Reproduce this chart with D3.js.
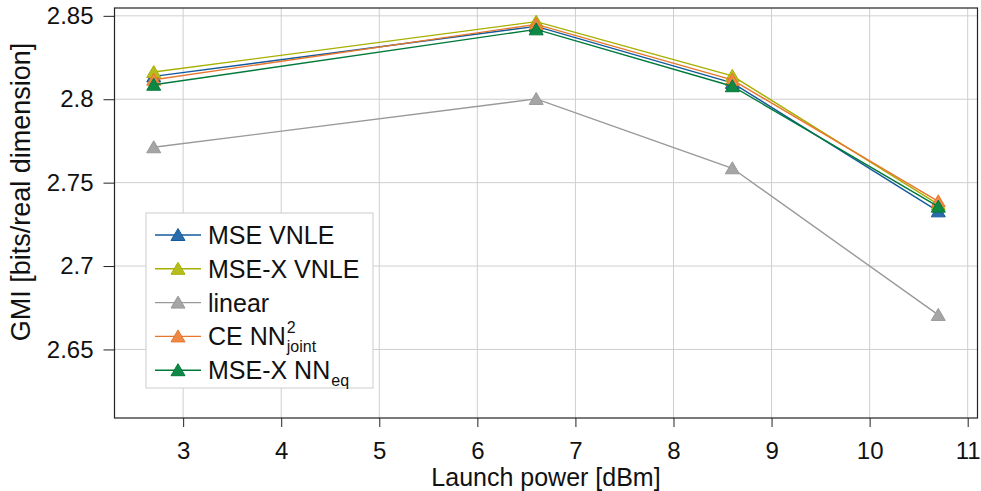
<!DOCTYPE html>
<html>
<head>
<meta charset="utf-8">
<script src="https://cdn.jsdelivr.net/npm/d3@7/dist/d3.min.js"></script>
<style>
  html, body { margin: 0; padding: 0; background: #fff; }
  svg { display: block; font-family: "Liberation Sans", Arial, Helvetica, sans-serif; }
</style>
</head>
<body>
<svg id="chart" width="981" height="491"></svg>
<script>
// ---- data ----
const launchPower = [2.7, 6.6, 8.6, 10.7];
const mseVnle     = [2.8137, 2.8437, 2.8098, 2.7328];
const mseXVnle    = [2.8163, 2.8465, 2.8140, 2.7370];
const linearEq    = [2.7712, 2.8002, 2.7586, 2.6707];
const ceNNjoint   = [2.8117, 2.8449, 2.8116, 2.7388];
const mseXNNeq    = [2.8087, 2.8419, 2.8078, 2.7356];
const xTicks = [3, 4, 5, 6, 7, 8, 9, 10, 11];
const yTicks = [2.65, 2.7, 2.75, 2.8, 2.85];
const yTickLabels = ["2.65", "2.7", "2.75", "2.8", "2.85"];

const series = [
  { name: "MSE VNLE",   values: mseVnle,   stroke: "#125a9c", fill: "#2a6cab" },
  { name: "MSE-X VNLE", values: mseXVnle,  stroke: "#a7b000", fill: "#b6bd1e" },
  { name: "linear",     values: linearEq,  stroke: "#999999", fill: "#a5a5a5" },
  { name: "CE NN",      values: ceNNjoint, stroke: "#e8772e", fill: "#ee8845", sup: "2", sub: "joint" },
  { name: "MSE-X NN",   values: mseXNNeq,  stroke: "#007a3a", fill: "#108845", sub: "eq" }
];

// ---- layout ----
const L = 114.5, R = 977.5, T = 8, B = 418;
const svg = d3.select("#chart");
const x = d3.scaleLinear().domain([2.3, 11.1]).range([L, R]);
const y = d3.scaleLinear().domain([2.6089, 2.8547]).range([B, T]);
const FS = 24;

// grid
const grid = svg.append("g");
grid.selectAll(".gx").data(xTicks).join("line")
  .attr("x1", d => x(d)).attr("x2", d => x(d)).attr("y1", T).attr("y2", B)
  .attr("stroke", "#cfcfcf").attr("stroke-width", 1);
grid.selectAll(".gy").data(yTicks).join("line")
  .attr("x1", L).attr("x2", R).attr("y1", d => y(d)).attr("y2", d => y(d))
  .attr("stroke", "#cfcfcf").attr("stroke-width", 1);

// axes
const xAxis = d3.axisBottom(x).tickValues(xTicks).tickSize(9).tickSizeOuter(0).tickPadding(15);
const yAxis = d3.axisLeft(y).tickValues(yTicks).tickFormat((d, i) => yTickLabels[i]).tickSize(11).tickSizeOuter(0).tickPadding(10);
const gx = svg.append("g").attr("transform", `translate(0,${B})`).call(xAxis);
const gy = svg.append("g").attr("transform", `translate(${L},0)`).call(yAxis);
[gx, gy].forEach(g => {
  g.select(".domain").remove();
  g.selectAll(".tick line").attr("stroke", "#222");
  g.selectAll(".tick text").attr("fill", "#111").style("font-size", FS + "px")
    .style("font-family", '"Liberation Sans", Arial, sans-serif');
});

// frame
svg.append("rect").attr("x", L).attr("y", T).attr("width", R - L).attr("height", B - T)
  .attr("fill", "none").attr("stroke", "#222").attr("stroke-width", 1.2);

// series
const tri = "M0,-6.5L7,5.5L-7,5.5Z";
const line = d3.line().x((d, i) => x(launchPower[i])).y(d => y(d));
series.forEach(s => {
  const g = svg.append("g");
  g.append("path").attr("d", line(s.values)).attr("fill", "none")
    .attr("stroke", s.stroke).attr("stroke-width", 1.4);
  g.selectAll("path.m").data(s.values).join("path").attr("class", "m")
    .attr("d", tri)
    .attr("transform", (d, i) => `translate(${x(launchPower[i])},${y(d)})`)
    .attr("fill", s.fill).attr("stroke", s.stroke).attr("stroke-width", 1);
});

// legend
const LFS = 25;
const lg = svg.append("g");
lg.append("rect").attr("x", 146).attr("y", 213).attr("width", 227).attr("height", 175)
  .attr("fill", "#fff").attr("stroke", "#cccccc").attr("stroke-width", 1);
series.forEach((s, i) => {
  const cy = 235 + i * 33.8;
  lg.append("line").attr("x1", 155).attr("x2", 201).attr("y1", cy).attr("y2", cy)
    .attr("stroke", s.stroke).attr("stroke-width", 1.4);
  lg.append("path").attr("d", tri).attr("transform", `translate(178,${cy})`)
    .attr("fill", s.fill).attr("stroke", s.stroke).attr("stroke-width", 1);
  const t = lg.append("text").attr("x", 208).attr("y", cy + 9)
    .style("font-size", LFS + "px").attr("fill", "#111").text(s.name);
  const w = t.node().getComputedTextLength();
  if (s.sup) {
    lg.append("text").attr("x", 208 + w + 1).attr("y", cy - 3)
      .style("font-size", "16px").attr("fill", "#111").text(s.sup);
  }
  if (s.sub) {
    lg.append("text").attr("x", 208 + w + 1).attr("y", cy + 16)
      .style("font-size", "16px").attr("fill", "#111").text(s.sub);
  }
});

// axis titles
svg.append("text").attr("x", (L + R) / 2).attr("y", 486).attr("text-anchor", "middle")
  .style("font-size", "25px").attr("fill", "#111").text("Launch power [dBm]");
svg.append("text").attr("transform", `translate(30,192) rotate(-90)`)
  .attr("text-anchor", "middle").style("font-size", "27px").attr("fill", "#111")
  .text("GMI [bits/real dimension]");
</script>
</body>
</html>
